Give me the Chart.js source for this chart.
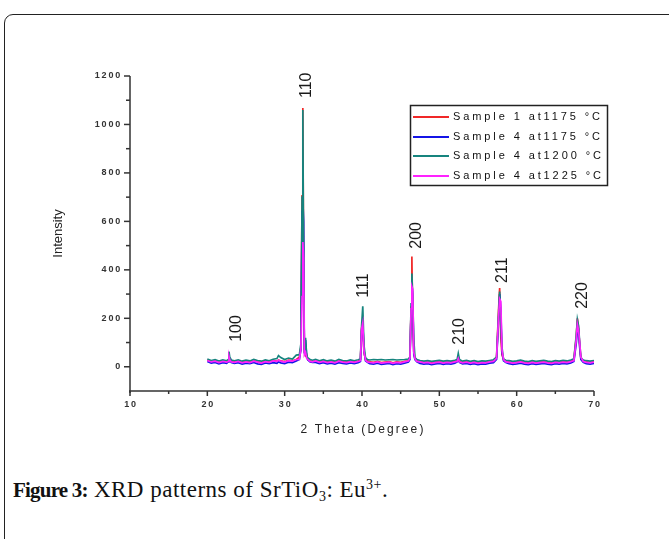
<!DOCTYPE html>
<html>
<head>
<meta charset="utf-8">
<script src="https://cdn.jsdelivr.net/npm/chart.js@4.4.1/dist/chart.umd.min.js"></script>
<style>
  html, body { margin: 0; padding: 0; background: #fff; }
  body { position: relative; width: 669px; height: 539px; overflow: hidden; }
  #topEdge {
    position: absolute; left: 8px; top: -40px; width: 700px; height: 40px;
    border-left: 1.5px solid #222; border-bottom: 1.5px solid #222;
    border-bottom-left-radius: 8px; box-sizing: border-box;
  }
  #frame {
    position: absolute; left: 4px; top: 14px; width: 720px; height: 600px;
    border: 1.5px solid #222; border-radius: 9px; box-sizing: border-box;
  }
  #xrd { position: absolute; left: 0; top: 0; }
  #caption {
    position: absolute; left: 13px; top: 477px;
    font-family: "Liberation Serif", "DejaVu Serif", serif; font-size: 23px; color: #111;
    letter-spacing: 0.5px; white-space: nowrap;
  }
  #caption b { font-weight: bold; font-size: 21px; letter-spacing: -0.8px; }
  #caption sub { font-size: 14px; vertical-align: -4px; line-height: 0; }
  #caption sup { font-size: 14px; vertical-align: 8px; line-height: 0; }
</style>
</head>
<body>
<div id="topEdge"></div>
<div id="frame"></div>
<canvas id="xrd" width="669" height="450"></canvas>
<div id="caption"><b>Figure 3:</b> XRD patterns of SrTiO<sub>3</sub>: Eu<sup>3+</sup>.</div>

<script>
// 2θ sampling (degrees) – coarse on the background, finer across each reflection
const theta = [
  20, 20.5, 21, 21.5, 22, 22.5,
  22.7, 22.8, 22.9, 23.1,
  23.5, 24, 24.5, 25, 25.5, 26, 26.5, 27, 27.5, 28, 28.5, 29, 29.2, 29.5, 30, 30.5, 31, 31.5,
  31.9, 32.1, 32.25, 32.35, 32.45, 32.55, 32.7, 32.85, 33.0, 33.3, 33.6,
  34, 34.5, 35, 35.5, 36, 36.5, 37, 37.5, 38, 38.5, 39, 39.5,
  39.8, 39.95, 40.1, 40.25, 40.45, 40.7,
  41, 41.5, 42, 42.5, 43, 43.5, 44, 44.5, 45, 45.5, 46,
  46.2, 46.35, 46.45, 46.55, 46.7, 46.85, 47.1,
  47.5, 48, 48.5, 49, 49.5, 50, 50.5, 51, 51.5, 52,
  52.3, 52.45, 52.6,
  53, 53.5, 54, 54.5, 55, 55.5, 56, 56.5, 57,
  57.4, 57.65, 57.8, 57.95, 58.1, 58.3, 58.6,
  59, 59.5, 60, 60.5, 61, 61.5, 62, 62.5, 63, 63.5, 64, 64.5, 65, 65.5, 66, 66.5, 67,
  67.4, 67.7, 67.85, 68.0, 68.15, 68.3, 68.6,
  69, 69.5, 70
];

// Sample 1 at 1175 °C
const s1_1175 = [
  28, 22, 25, 18, 24, 20,
  25, 40, 30, 22,
  20, 24, 18, 22, 19, 25, 21, 17, 23, 20, 26, 22, 28, 24, 21, 27, 25, 30,
  40, 80, 705, 1068, 420, 60, 45, 50, 30, 25, 22,
  26, 20, 24, 19, 22, 18, 25, 21, 19, 23, 20, 24,
  30, 160, 175, 60, 30, 25,
  20, 18, 22, 17, 19, 21, 16, 20, 18, 22, 25,
  40, 245, 455, 200, 60, 35, 25,
  22, 18, 20, 16, 19, 21, 17, 20, 18, 22,
  25, 35, 22,
  18, 21, 17, 20, 16, 19, 18, 22, 24,
  40, 230, 325, 120, 50, 30, 22,
  20, 17, 19, 22, 18, 16, 20, 17, 19, 21, 18, 16, 20, 18, 21, 19, 23,
  30, 120, 200, 160, 90, 35, 25,
  20, 18, 21
];

// Sample 4 at 1175 °C
const s4_1175 = [
  22, 15, 18, 12, 17, 14,
  20, 45, 28, 18,
  14, 17, 11, 15, 13, 18, 12, 10, 16, 13, 17, 14, 20, 16, 13, 19, 17, 24,
  30, 70, 640, 690, 600, 55, 110, 40, 28, 20, 18,
  18, 13, 17, 12, 15, 11, 17, 14, 12, 16, 13, 17,
  22, 150, 185, 70, 25, 18,
  13, 11, 15, 10, 12, 14, 9, 13, 11, 15, 20,
  30, 230, 345, 300, 50, 30, 20,
  14, 11, 13, 9, 12, 14, 10, 13, 11, 15,
  20, 38, 18,
  12, 14, 10, 13, 9, 12, 11, 15, 17,
  30, 180, 300, 240, 60, 25, 18,
  13, 10, 12, 15, 11, 9, 13, 10, 12, 14, 11, 9, 13, 11, 14, 12, 16,
  22, 95, 145, 150, 80, 30, 18,
  13, 11, 14
];

// Sample 4 at 1200 °C
const s4_1200 = [
  32, 26, 29, 24, 28, 25,
  30, 62, 40, 28,
  25, 28, 23, 27, 24, 30, 26, 23, 28, 25, 31, 34, 46, 38, 30, 36, 32, 48,
  50, 95, 700, 1060, 380, 70, 120, 45, 36, 30, 27,
  30, 25, 29, 24, 27, 23, 30, 26, 24, 28, 25, 29,
  32, 170, 250, 90, 38, 30,
  28, 30, 29, 30, 28, 29, 30, 28, 29, 30, 32,
  40, 260, 385, 290, 110, 38, 30,
  26, 23, 25, 22, 24, 26, 23, 25, 23, 27,
  30, 55, 30,
  23, 26, 22, 25, 21, 24, 23, 26, 29,
  40, 210, 310, 190, 80, 32, 27,
  25, 22, 24, 27, 23, 21, 25, 22, 24, 26, 23, 21, 25, 23, 26, 24, 28,
  33, 130, 195, 170, 100, 38, 28,
  25, 23, 26
];

// Sample 4 at 1225 °C
const s4_1225 = [
  26, 20, 23, 17, 22, 19,
  22, 42, 28, 20,
  18, 22, 16, 20, 17, 23, 19, 15, 21, 18, 24, 22, 27, 23, 19, 25, 23, 30,
  30, 75, 290, 515, 450, 50, 60, 35, 30, 22, 20,
  24, 18, 22, 17, 20, 16, 23, 19, 17, 21, 18, 22,
  25, 155, 180, 65, 28, 20,
  18, 16, 20, 15, 17, 19, 14, 18, 16, 20, 24,
  35, 240, 330, 320, 60, 32, 22,
  20, 16, 18, 14, 17, 19, 15, 18, 16, 20,
  22, 35, 20,
  16, 19, 15, 18, 14, 17, 16, 20, 22,
  35, 200, 280, 270, 70, 30, 20,
  18, 15, 17, 20, 16, 14, 18, 15, 17, 19, 16, 14, 18, 16, 19, 17, 21,
  25, 110, 175, 150, 100, 40, 22,
  18, 16, 19
];

const seriesNames = ["Sample 1 at1175 °C", "Sample 4 at1175 °C", "Sample 4 at1200 °C", "Sample 4 at1225 °C"];
const seriesColors = ["#f02828", "#1414e6", "#16847e", "#ff22ff"];

// (hkl) labels: where they sit (2θ) and the intensity their text starts at
const hklLabels = ["100", "110", "111", "200", "210", "211", "220"];
const hklTheta  = [23.6, 32.7, 40.1, 46.95, 52.4, 58.0, 68.4];
const hklBase   = [103, 1109, 285, 487, 91, 346, 239];

const xTicks = [10, 20, 30, 40, 50, 60, 70];
const yTicks = [0, 200, 400, 600, 800, 1000, 1200];

const toPoints = ys => ys.map((y, i) => ({ x: theta[i], y }));

// axes, ticks, titles, peak labels and the boxed legend
const decorations = {
  id: "decorations",
  afterDraw(chart) {
    const ctx = chart.ctx;
    const xs = chart.scales.x, ys = chart.scales.y;
    const left = xs.left, right = xs.right, bottom = ys.bottom, top = ys.top;
    ctx.save();
    ctx.strokeStyle = "#333";
    ctx.fillStyle = "#333";
    ctx.lineWidth = 1.5;

    // axis lines
    ctx.beginPath();
    ctx.moveTo(left, top);
    ctx.lineTo(left, bottom + 2);
    ctx.moveTo(left - 1, bottom);
    ctx.lineTo(right, bottom);
    ctx.stroke();

    // y ticks every 100, labelled every 200
    ctx.font = "bold 9px 'Liberation Sans', Arial, sans-serif";
    ctx.letterSpacing = "1.8px";
    ctx.textAlign = "right";
    ctx.textBaseline = "middle";
    for (let v = 0; v <= 1200; v += 100) {
      const py = ys.getPixelForValue(v);
      const major = yTicks.includes(v);
      ctx.beginPath();
      ctx.moveTo(left, py);
      ctx.lineTo(left - (major ? 6 : 4), py);
      ctx.stroke();
      if (major) ctx.fillText(String(v), left - 8, py);
    }

    // x ticks every 5, labelled every 10
    ctx.textAlign = "center";
    ctx.textBaseline = "top";
    for (let v = 10; v <= 70; v += 5) {
      const px = xs.getPixelForValue(v);
      const major = xTicks.includes(v);
      ctx.beginPath();
      ctx.moveTo(px, bottom);
      ctx.lineTo(px, bottom + (major ? 5 : 3));
      ctx.stroke();
      if (major) ctx.fillText(String(v), px + 1, bottom + 9);
    }

    // axis titles
    ctx.fillStyle = "#222";
    ctx.font = "12px 'Liberation Sans', Arial, sans-serif";
    ctx.letterSpacing = "2.1px";
    ctx.textBaseline = "middle";
    ctx.fillText("2 Theta (Degree)", (left + right) / 2 + 1, 430);

    ctx.save();
    ctx.translate(58, (top + bottom) / 2);
    ctx.rotate(-Math.PI / 2);
    ctx.letterSpacing = "0px";
    ctx.font = "13px 'Liberation Sans', Arial, sans-serif";
    ctx.fillText("Intensity", 0, 0);
    ctx.restore();

    // (hkl) labels, rotated
    ctx.font = "16px 'Liberation Sans', Arial, sans-serif";
    ctx.letterSpacing = "0px";
    ctx.fillStyle = "#1a1a1a";
    hklLabels.forEach((txt, i) => {
      const px = xs.getPixelForValue(hklTheta[i]);
      const py = ys.getPixelForValue(hklBase[i]);
      ctx.save();
      ctx.translate(px + 5.7, py);
      ctx.rotate(-Math.PI / 2);
      ctx.textAlign = "left";
      ctx.textBaseline = "alphabetic";
      ctx.fillText(txt, 0, 0);
      ctx.restore();
    });

    // legend box
    ctx.strokeStyle = "#222";
    ctx.lineWidth = 1.5;
    ctx.strokeRect(410.5, 105.5, 197, 80);
    ctx.font = "11px 'Liberation Sans', Arial, sans-serif";
    ctx.letterSpacing = "2.9px";
    ctx.textAlign = "left";
    ctx.textBaseline = "middle";
    const rows = [117, 137, 156, 176];
    seriesNames.forEach((name, i) => {
      ctx.strokeStyle = seriesColors[i];
      ctx.lineWidth = 2;
      ctx.beginPath();
      ctx.moveTo(413, rows[i]);
      ctx.lineTo(449, rows[i]);
      ctx.stroke();
      ctx.fillStyle = "#111";
      ctx.fillText(name, 453, rows[i]);
    });
    ctx.restore();
  }
};

new Chart(document.getElementById("xrd"), {
  type: "line",
  data: {
    datasets: [s1_1175, s4_1175, s4_1200, s4_1225].map((ys, i) => ({
      label: seriesNames[i],
      data: toPoints(ys),
      borderColor: seriesColors[i],
      borderWidth: 1.7,
      pointRadius: 0,
      tension: 0,
      fill: false,
      // magenta on top, red at the bottom
      order: 3 - i
    }))
  },
  options: {
    responsive: false,
    animation: false,
    layout: { padding: { left: 130, right: 75, top: 76, bottom: 59 } },
    scales: {
      x: { type: "linear", min: 10, max: 70, display: false },
      y: { type: "linear", min: -100, max: 1200, display: false }
    },
    plugins: {
      legend: { display: false },
      tooltip: { enabled: false }
    }
  },
  plugins: [decorations]
});
</script>
</body>
</html>
